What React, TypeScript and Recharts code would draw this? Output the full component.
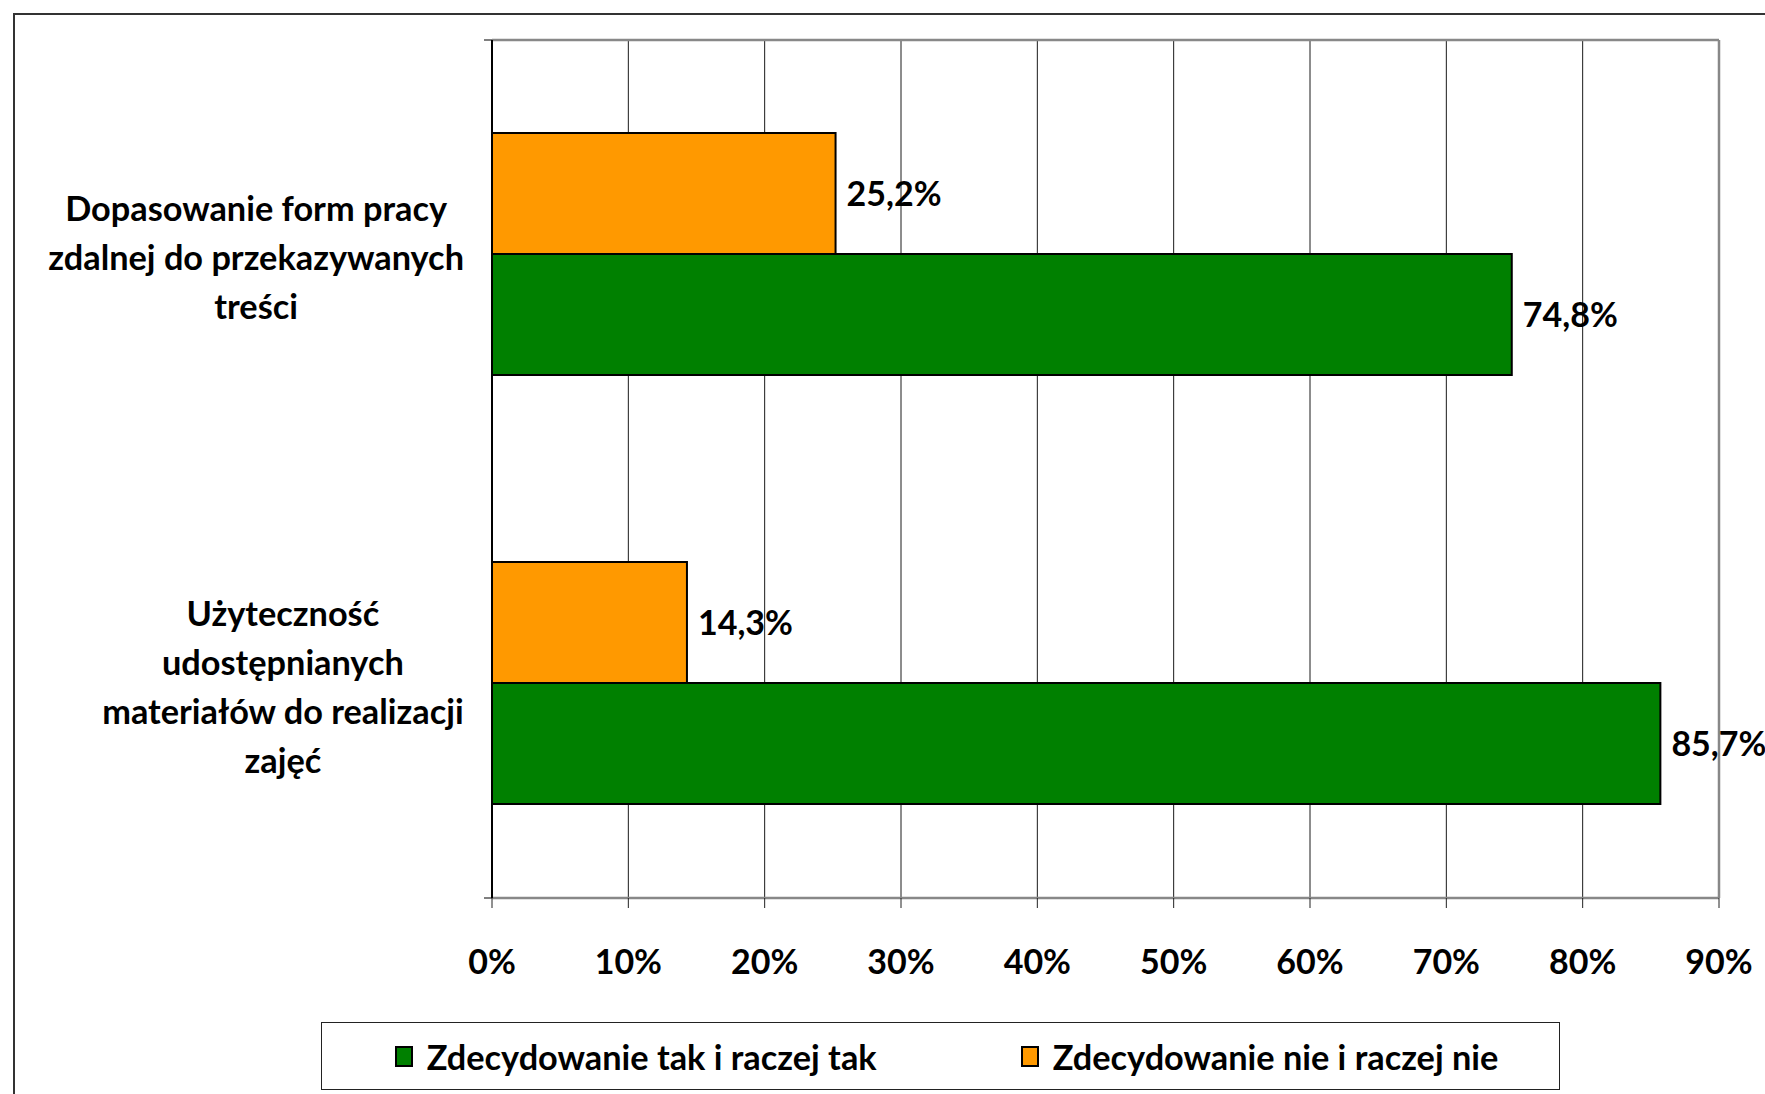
import React from 'react';
import { BarChart, Bar, XAxis, YAxis, CartesianGrid, LabelList } from 'recharts';

const categoryLines: string[][] = [
  ['Dopasowanie form pracy', 'zdalnej do przekazywanych', 'treści'],
  ['Użyteczność', 'udostępnianych', 'materiałów do realizacji', 'zajęć'],
];
const categoryKeys = ['c1', 'c2'];
const seriesNames = ['Zdecydowanie tak i raczej tak', 'Zdecydowanie nie i raczej nie'];
const seriesColors = ['#008000', '#FF9900'];
const yesValues = [0.748, 0.857];
const noValues = [0.252, 0.143];
const xTicks = [0, 0.1, 0.2, 0.3, 0.4, 0.5, 0.6, 0.7, 0.8, 0.9];
const boundTicks = [0, 1, 2];

const data = categoryKeys.map((k, i) => ({ name: k, yes: yesValues[i], no: noValues[i] }));

const FONT = 'Lato, "Open Sans", sans-serif';
const W = 1765;
const H = 1094;
const PLOT_LEFT = 492;
const PLOT_RIGHT = 1719;
const PLOT_TOP = 40;
const PLOT_BOTTOM = 898;
const CAT_FS = 34.3;
const NUM_FS = 34;
const LEG_FS = 34.3;
const LINE_H = 49;

let ctx: CanvasRenderingContext2D | null = null;
function measure(text: string, size: number): number {
  if (!ctx) {
    const c = document.createElement('canvas');
    ctx = c.getContext('2d');
  }
  if (!ctx) return text.length * size * 0.5;
  ctx.font = `bold ${size}px Lato`;
  return ctx.measureText(text).width;
}

const pct = (v: number) => `${Math.round(v * 100)}%`;
const pctLabel = (v: any) => `${(Number(v) * 100).toFixed(1).replace('.', ',')}%`;

const CatTick = (props: any) => {
  const { y, payload } = props;
  const i = categoryKeys.indexOf(payload.value);
  const lines = categoryLines[i] || [];
  const maxW = Math.max(...lines.map((l) => measure(l, CAT_FS)));
  const right = PLOT_LEFT - 28;
  const cx = right - maxW / 2;
  const startY = y + 2 - ((lines.length - 1) * LINE_H) / 2;
  return (
    <g>
      {lines.map((l, j) => (
        <text
          key={j}
          x={cx}
          y={startY + j * LINE_H}
          textAnchor="middle"
          dominantBaseline="central"
          fontFamily={FONT}
          fontWeight="bold"
          fontSize={CAT_FS}
          fill="#000"
        >
          {l}
        </text>
      ))}
    </g>
  );
};

const XTick = (props: any) => {
  const { x, payload } = props;
  return (
    <text
      x={x}
      y={PLOT_BOTTOM + 62}
      textAnchor="middle"
      dominantBaseline="central"
      fontFamily={FONT}
      fontWeight="bold"
      fontSize={NUM_FS}
      fill="#000"
    >
      {pct(payload.value)}
    </text>
  );
};

const Empty = () => <g />;

export default function App() {
  return (
    <div style={{ position: 'fixed', left: 0, top: 0, width: W, height: H, overflow: 'hidden', background: '#fff' }}>
      <div
        style={{
          position: 'absolute',
          left: 13,
          top: 13,
          width: W,
          height: H,
          borderLeft: '2px solid #333',
          borderTop: '2px solid #333',
        }}
      />
      <div style={{ position: 'absolute', left: 0, top: 0 }}>
        <BarChart
          width={W}
          height={H}
          data={data}
          layout="vertical"
          margin={{ left: PLOT_LEFT - 2, right: W - PLOT_RIGHT - 1, top: PLOT_TOP - 1, bottom: H - PLOT_BOTTOM - 100 }}
          barCategoryGap="21.7%"
          barGap={0}
        >
          <CartesianGrid horizontal={false} vertical stroke="#1a1a1a" strokeWidth={1} yAxisId="cat" />
          <XAxis
            type="number"
            domain={[0, 0.9]}
            ticks={xTicks}
            interval={0}
            height={100}
            tickSize={10}
            tick={<XTick />}
            axisLine={{ stroke: '#888', strokeWidth: 2.5 }}
            tickLine={{ stroke: '#222', strokeWidth: 1 }}
            allowDataOverflow
          />
          <XAxis
            xAxisId="top"
            orientation="top"
            type="number"
            domain={[0, 0.9]}
            ticks={xTicks}
            height={1}
            tick={<Empty />}
            tickLine={false}
            axisLine={{ stroke: '#888', strokeWidth: 2.5 }}
          />
          <YAxis
            yAxisId="bounds"
            type="number"
            domain={[0, 2]}
            ticks={boundTicks}
            interval={0}
            width={1}
            tickSize={8}
            tick={<Empty />}
            tickLine={{ stroke: '#000', strokeWidth: 1 }}
            axisLine={{ stroke: '#000', strokeWidth: 2 }}
            allowDataOverflow
          />
          <YAxis
            yAxisId="cat"
            type="category"
            dataKey="name"
            width={1}
            tickLine={false}
            axisLine={false}
            tick={<CatTick />}
            interval={0}
          />
          <YAxis
            yAxisId="rb"
            orientation="right"
            type="number"
            domain={[0, 2]}
            ticks={boundTicks}
            width={1}
            tick={<Empty />}
            tickLine={false}
            axisLine={{ stroke: '#888', strokeWidth: 2.5 }}
          />
          <Bar dataKey="no" name={seriesNames[1]} yAxisId="cat" fill={seriesColors[1]} stroke="#000" strokeWidth={2} isAnimationActive={false}>
            <LabelList dataKey="no" position="right" offset={11} formatter={pctLabel} fill="#000" fontFamily={FONT} fontWeight="bold" fontSize={NUM_FS} />
          </Bar>
          <Bar dataKey="yes" name={seriesNames[0]} yAxisId="cat" fill={seriesColors[0]} stroke="#000" strokeWidth={2} isAnimationActive={false}>
            <LabelList dataKey="yes" position="right" offset={11} formatter={pctLabel} fill="#000" fontFamily={FONT} fontWeight="bold" fontSize={NUM_FS} />
          </Bar>
        </BarChart>
      </div>
      <div
        style={{
          position: 'absolute',
          left: 321,
          top: 1022,
          width: 1239,
          height: 68,
          boxSizing: 'border-box',
          border: '1.5px solid #222',
          display: 'flex',
          alignItems: 'center',
          justifyContent: 'center',
          gap: 144,
          paddingLeft: 12,
          fontFamily: FONT,
          fontWeight: 'bold',
          fontSize: LEG_FS,
          color: '#000',
        }}
      >
        {seriesNames.map((n, i) => (
          <div key={n} style={{ display: 'flex', alignItems: 'center', gap: 14 }}>
            <div style={{ width: 18, height: 21, background: seriesColors[i], border: '2px solid #000', boxSizing: 'border-box' }} />
            <span>{n}</span>
          </div>
        ))}
      </div>
    </div>
  );
}
